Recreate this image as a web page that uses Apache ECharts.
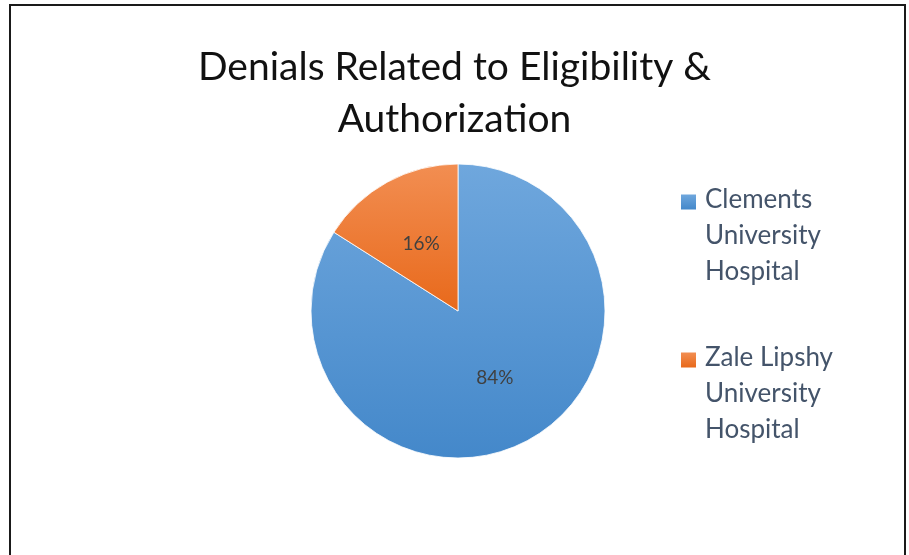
<!DOCTYPE html>
<html lang="en">
<head>
<meta charset="UTF-8" />
<title>Denials Related to Eligibility &amp; Authorization</title>
<style>
  html, body { margin: 0; padding: 0; background: #fff; }
  #main { width: 909px; height: 555px; }
  #frame { position: absolute; left: 9px; top: 4px; width: 893px; height: 600px;
           border: 2px solid #1a1a1a; pointer-events: none; }
</style>
</head>
<body>
<div id="main"></div>
<div id="frame"></div>
<script src="https://cdn.jsdelivr.net/npm/echarts@6/dist/echarts.min.js"></script>
<script>
// chart data
var hospitals = ['Clements University Hospital', 'Zale Lipshy University Hospital'];
var legendNames = ['Clements\nUniversity\nHospital', 'Zale Lipshy\nUniversity\nHospital'];
var shares = [84, 16];

var blue = { type: 'linear', x: 0, y: 0, x2: 0, y2: 1,
  colorStops: [{ offset: 0, color: '#6fa7dd' }, { offset: 1, color: '#4488ca' }] };
var orange = { type: 'linear', x: 0, y: 0, x2: 0, y2: 1,
  colorStops: [{ offset: 0, color: '#f28e52' }, { offset: 1, color: '#e8691b' }] };
var colors = [blue, orange];

// legend icons: square at top of a taller (empty) box so the first text line sits beside it
var iconH = 83;
var iconPath = 'path://M0,0h15v15h-15zM0,' + iconH + 'h0';
function iconGrad(c0, c1) {
  return { type: 'linear', x: 0, y: 0, x2: 0, y2: 1,
    colorStops: [{ offset: 0, color: c0 }, { offset: 15 / iconH, color: c1 }, { offset: 1, color: c1 }] };
}
var iconColors = [iconGrad('#6fa7dd', '#4488ca'), iconGrad('#f28e52', '#e8691b')];

var myChart = echarts.init(document.getElementById('main'));

var option = {
  animation: false,
  title: {
    text: 'Denials Related to Eligibility &\nAuthorization',
    left: 'center',
    top: 36,
    textStyle: {
      fontFamily: 'Lato',
      fontWeight: 'normal',
      fontSize: 39,
      lineHeight: 52,
      color: '#111'
    }
  },
  legend: {
    orient: 'vertical',
    left: 681,
    top: 182,
    padding: 0,
    itemWidth: 15,
    itemHeight: iconH,
    itemGap: 50,
    icon: iconPath,
    data: hospitals.map(function (h, i) {
      return { name: h, itemStyle: { color: iconColors[i], borderWidth: 0 } };
    }),
    formatter: function (name) {
      return legendNames[hospitals.indexOf(name)];
    },
    textStyle: {
      fontFamily: 'Lato',
      fontSize: 26,
      lineHeight: 36,
      padding: [0, 0, 0, 4],
      color: '#44546a'
    }
  },
  series: [{
    type: 'pie',
    center: [458, 311],
    radius: 147,
    startAngle: 90,
    clockwise: true,
    label: {
      show: true,
      position: 'inside',
      formatter: '{c}%',
      fontFamily: 'Lato',
      fontSize: 19,
      color: '#404040'
    },
    labelLine: { show: false },
    itemStyle: { borderColor: '#ffffff', borderWidth: 0.8 },
    emphasis: { disabled: true },
    data: hospitals.map(function (h, i) {
      return { name: h, value: shares[i], itemStyle: { color: colors[i] } };
    })
  }]
};

myChart.setOption(option);
</script>
</body>
</html>
